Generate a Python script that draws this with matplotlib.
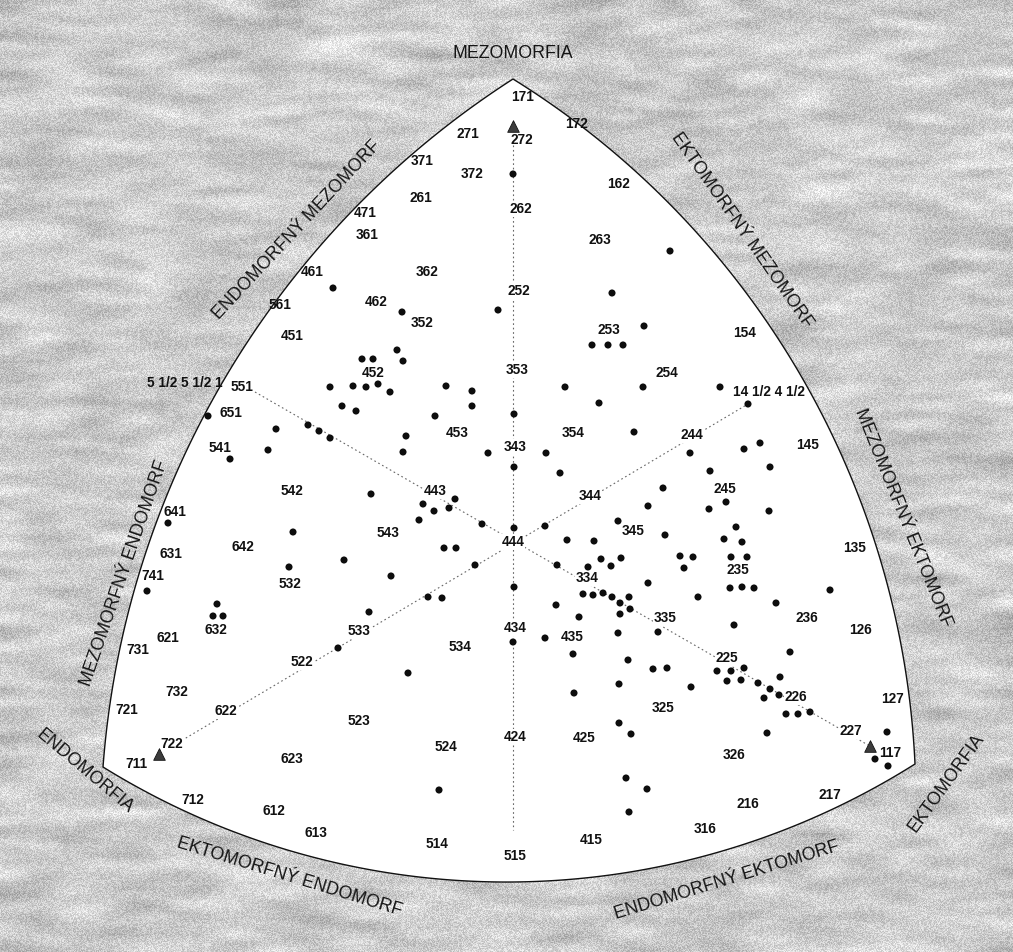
import numpy as np
import matplotlib
matplotlib.use("Agg")
import matplotlib.pyplot as plt
from matplotlib import font_manager
from matplotlib.patches import Polygon

# ---------------------------------------------------------------------------
# Somatotype labels (endo-meso-ecto) and their positions on the somatochart
# (chart units, origin at the 4-4-4 centre)
# ---------------------------------------------------------------------------
label_codes = [
    "171", "272", "271", "172", "371", "372", "162", "261", "262", "471",
    "361", "263", "362", "461", "252", "462", "561", "352", "253", "154",
    "451", "353", "452", "254", "5 1/2 5 1/2 1", "551", "14 1/2 4 1/2", "651",
    "453", "354", "244", "145", "343", "541", "245", "443", "542", "344",
    "641", "345", "543", "444", "642", "135", "631", "235", "741", "334",
    "532", "236", "335", "632", "434", "126", "533", "435", "621", "534",
    "731", "225", "522", "732", "226", "127", "325", "721", "622", "523",
    "227", "424", "425", "722", "524", "117", "326", "623", "711", "217",
    "712", "216", "612", "316", "613", "415", "514", "515",
]
label_x = [
    10, 9, -45, 64, -91, -41, 105, -92, 8, -148,
    -146, 87, -86, -201, 6, -137, -233, -91, 96, 232,
    -221, 4, -140, 154, -328, -271, 256, -282,
    -56, 60, 179, 295, 2, -293, 212, -78, -221, 77,
    -338, 120, -125, 0, -270, 342, -342, 225, -360, 74,
    -223, 294, 152, -297, 2, 347, -154, 59, -345, -53,
    -375, 214, -211, -336, 283, 380, 150, -386, -287, -154,
    338, 2, 71, -341, -67, 377, 221, -221, -377, 317,
    -320, 235, -239, 192, -197, 78, -76, 2,
]
label_y = [
    444, 401, 407, 417, 380, 367, 357, 343, 332, 328,
    306, 301, 269, 269, 250, 239, 236, 218, 211, 208,
    205, 171, 168, 168, 158, 154, 149, 128,
    108, 108, 106, 96, 94, 93, 52, 50, 50, 45,
    29, 10, 8, -1, -6, -7, -13, -29, -35, -37,
    -43, -77, -77, -89, -87, -89, -90, -96, -97, -106,
    -109, -117, -121, -151, -156, -158, -167, -169, -170, -180,
    -190, -196, -197, -203, -206, -212, -214, -218, -223, -254,
    -259, -263, -270, -288, -292, -299, -303, -315,
]

# Individual somatotypes plotted as dots
dot_x = [
    0, 157, 99, -180, -111, -15, 131, 79, 95, 110,
    -116, -110, -151, -140, -160, -147, -135, -123, -183, -171, -157,
    52, 130, -67, -41, -41, 86, -78, 1, 121, -107, -110, -25, 33, 1, 47,
    -142, 150, -90, -79, -64, -58, -94, -31, 135, 32, 105, 152, 1, -69,
    -57, 54, 81, -169, 88, 98, 108, 75, 44, -38, -122, 135, 1, 70, 80,
    90, 99, 107, 116, 117, 107, 43, 66, -85, -71, -144,
    -305, -237, -205, -194, -183, -283, -245, -345, -220, -224, -366, -296,
    -300, -290,
    207, 235, 177, 231, 247, 257, 197, 213, 196, 256, 223, 211, 229, 167,
    180, 171, 218, 234, 217, 229, 241, 185, 263, 317, 221,
    -175, 0, 32, 105, 145, 60, 115, 140, 154, -105, 106, 61, 106, 118,
    113, 134, -74, 116,
    277, 204, 218, 231, 214, 228, 178, 245, 257, 267, 251, 266, 273, 285,
    297, 254, 374, 362, 375,
]
dot_y = [
    367, 290, 248, 253, 229, 231, 215, 196, 196, 196,
    191, 180, 182, 182, 155, 154, 157, 149, 154, 135, 130,
    154, 154, 155, 150, 135, 138, 125, 127, 109, 105, 89, 88, 88, 74, 68,
    47, 53, 37, 30, 33, 42, 21, 17, 35, 15, 20, 6, 13, -7,
    -7, 1, 0, -19, -18, -25, -17, -26, -24, -24, -35, -42, -46, -53, -54,
    -52, -56, -62, -56, -68, -73, -64, -76, -56, -57, -71,
    125, 112, 116, 110, 103, 82, 91, 18, 9, -26, -50, -63,
    -75, -75,
    154, 137, 88, 92, 98, 74, 70, 39, 32, 30, 14, 2, -1, -15,
    -16, -27, -16, -16, -47, -46, -47, -56, -62, -49, -84,
    -107, -101, -97, -92, -91, -113, -119, -128, -127, -132, -143, -152, -182, -193,
    -237, -248, -249, -271,
    -111, -130, -130, -127, -140, -139, -146, -142, -148, -136, -157, -154, -173, -173,
    -171, -192, -191, -218, -225,
]

# Extreme somatotypes 7-1-1, 1-7-1 and 1-1-7
extreme_x = [-354, 0, 357]
extreme_y = [-213, 415, -205]

# Dominant-component axes drawn through the chart
axis_x0 = [0, -258, -354]
axis_y0 = [396, 149, -213]
axis_x1 = [0, 355, 235]
axis_y1 = [-289, -204, 137]

# Outline of the chart: corners and one point on each curved side
corner_top = (0, 462)
corner_left = (-410, -226)
corner_right = (402, -223)
side_left_mid = (-306, 131)
side_right_mid = (323, 98)
side_bottom_mid = (-1, -341)

# Region names around the chart
region_names = [
    "MEZOMORFIA", "ENDOMORFNÝ MEZOMORF", "EKTOMORFNÝ MEZOMORF",
    "MEZOMORFNÝ ENDOMORF", "MEZOMORFNÝ EKTOMORF", "ENDOMORFIA",
    "EKTOMORFIA", "EKTOMORFNÝ ENDOMORF", "ENDOMORFNÝ EKTOMORF",
]
region_x = [0, -216, 229, -389, 390, -428, 433, -224, 214]
region_y = [488, 311, 311, -32, 23, -230, -242, -336, -339]
region_rot = [0, 47, -55, 71, -68, -40, 54, -17, 17]

# ---------------------------------------------------------------------------
W_PX, H_PX = 1013, 952
X_MIN, X_MAX = -513, 500
Y_MIN, Y_MAX = -411, 541

available = {f.name for f in font_manager.fontManager.ttflist}
if "Liberation Sans Narrow" in available:
    text_family = ["Liberation Sans Narrow", "DejaVu Sans"]
    num_size, region_size = 11.0, 15.0
else:
    text_family = ["Liberation Sans", "DejaVu Sans"]
    num_size, region_size = 9.8, 12.8

fig = plt.figure(figsize=(W_PX / 100, H_PX / 100), dpi=100)
ax = fig.add_axes([0, 0, 1, 1])
ax.set_xlim(X_MIN, X_MAX)
ax.set_ylim(Y_MIN, Y_MAX)
ax.axis("off")

# Paper texture for the surround
rng = np.random.default_rng(11)


def blur_axis(a, r, axis):
    pad = [(0, 0), (0, 0)]
    pad[axis] = (r + 1, r)
    ap = np.pad(a, pad, mode="reflect")
    c = np.cumsum(ap, axis=axis)
    if axis == 0:
        return (c[2 * r + 1:] - c[:-2 * r - 1]) / (2 * r + 1)
    return (c[:, 2 * r + 1:] - c[:, :-2 * r - 1]) / (2 * r + 1)


blob = rng.random((H_PX, W_PX))
for _ in range(2):
    blob = blur_axis(blob, 4, 0)
    blob = blur_axis(blob, 18, 1)
blob = (blob - blob.mean()) / blob.std()
grain = rng.random((H_PX, W_PX)) - 0.5
paper = np.clip(0.80 + 0.035 * blob + 0.2 * grain, 0, 1)
ax.imshow(paper, extent=(X_MIN, X_MAX, Y_MIN, Y_MAX), origin="upper",
          cmap="gray", vmin=0, vmax=1, interpolation="nearest",
          aspect="auto", zorder=0)


def circle_through(p1, p2, p3):
    ax_, ay_ = p1
    bx, by = p2
    cx, cy = p3
    d = 2 * (ax_ * (by - cy) + bx * (cy - ay_) + cx * (ay_ - by))
    ux = ((ax_**2 + ay_**2) * (by - cy) + (bx**2 + by**2) * (cy - ay_)
          + (cx**2 + cy**2) * (ay_ - by)) / d
    uy = ((ax_**2 + ay_**2) * (cx - bx) + (bx**2 + by**2) * (ax_ - cx)
          + (cx**2 + cy**2) * (bx - ax_)) / d
    return ux, uy, np.hypot(ax_ - ux, ay_ - uy)


def arc_points(p_start, p_mid, p_end, n=200):
    ux, uy, r = circle_through(p_start, p_mid, p_end)
    a1 = np.arctan2(p_start[1] - uy, p_start[0] - ux)
    a2 = np.arctan2(p_mid[1] - uy, p_mid[0] - ux)
    a3 = np.arctan2(p_end[1] - uy, p_end[0] - ux)
    d13 = (a3 - a1) % (2 * np.pi)
    d12 = (a2 - a1) % (2 * np.pi)
    span = d13 if d12 < d13 else d13 - 2 * np.pi
    t = a1 + np.linspace(0, span, n)
    return np.column_stack([ux + r * np.cos(t), uy + r * np.sin(t)])


outline = np.vstack([
    arc_points(corner_left, side_left_mid, corner_top),
    arc_points(corner_top, side_right_mid, corner_right)[1:],
    arc_points(corner_right, side_bottom_mid, corner_left)[1:],
])
ax.add_patch(Polygon(outline, closed=True, facecolor="white",
                     edgecolor="#111111", linewidth=1.0, zorder=1,
                     joinstyle="miter"))

# Axes of the chart
for x0, y0, x1, y1 in zip(axis_x0, axis_y0, axis_x1, axis_y1):
    ax.plot([x0, x1], [y0, y1], color="#666666", linewidth=0.8,
            linestyle=(0, (1.5, 2.5)), zorder=2)


def dist_to_segment(px, py, x0, y0, x1, y1):
    vx, vy = x1 - x0, y1 - y0
    t = ((px - x0) * vx + (py - y0) * vy) / (vx * vx + vy * vy)
    t = min(max(t, 0.0), 1.0)
    return np.hypot(px - (x0 + t * vx), py - (y0 + t * vy))


for code, x, y in zip(label_codes, label_x, label_y):
    near_axis = min(dist_to_segment(x, y, *seg) for seg in
                    zip(axis_x0, axis_y0, axis_x1, axis_y1)) < 10
    box = dict(boxstyle="square,pad=0.05", facecolor="white",
               edgecolor="none") if near_axis else None
    ax.text(x, y, code, ha="center", va="center", fontsize=num_size,
            fontweight="bold", family=text_family, color="#111111",
            bbox=box, zorder=3)

ax.scatter(dot_x, dot_y, s=26, color="#0d0d0d", edgecolors="none", zorder=5)
ax.scatter(extreme_x, extreme_y, marker="^", s=70, color="#3c3c3c",
           edgecolors="#111111", linewidths=0.6, zorder=5)

for name, x, y, rot in zip(region_names, region_x, region_y, region_rot):
    ax.text(x, y, name, ha="center", va="center", rotation=rot,
            rotation_mode="anchor", fontsize=region_size,
            family=text_family, color="#151515", zorder=6)

fig.savefig("out.png", dpi=100)
